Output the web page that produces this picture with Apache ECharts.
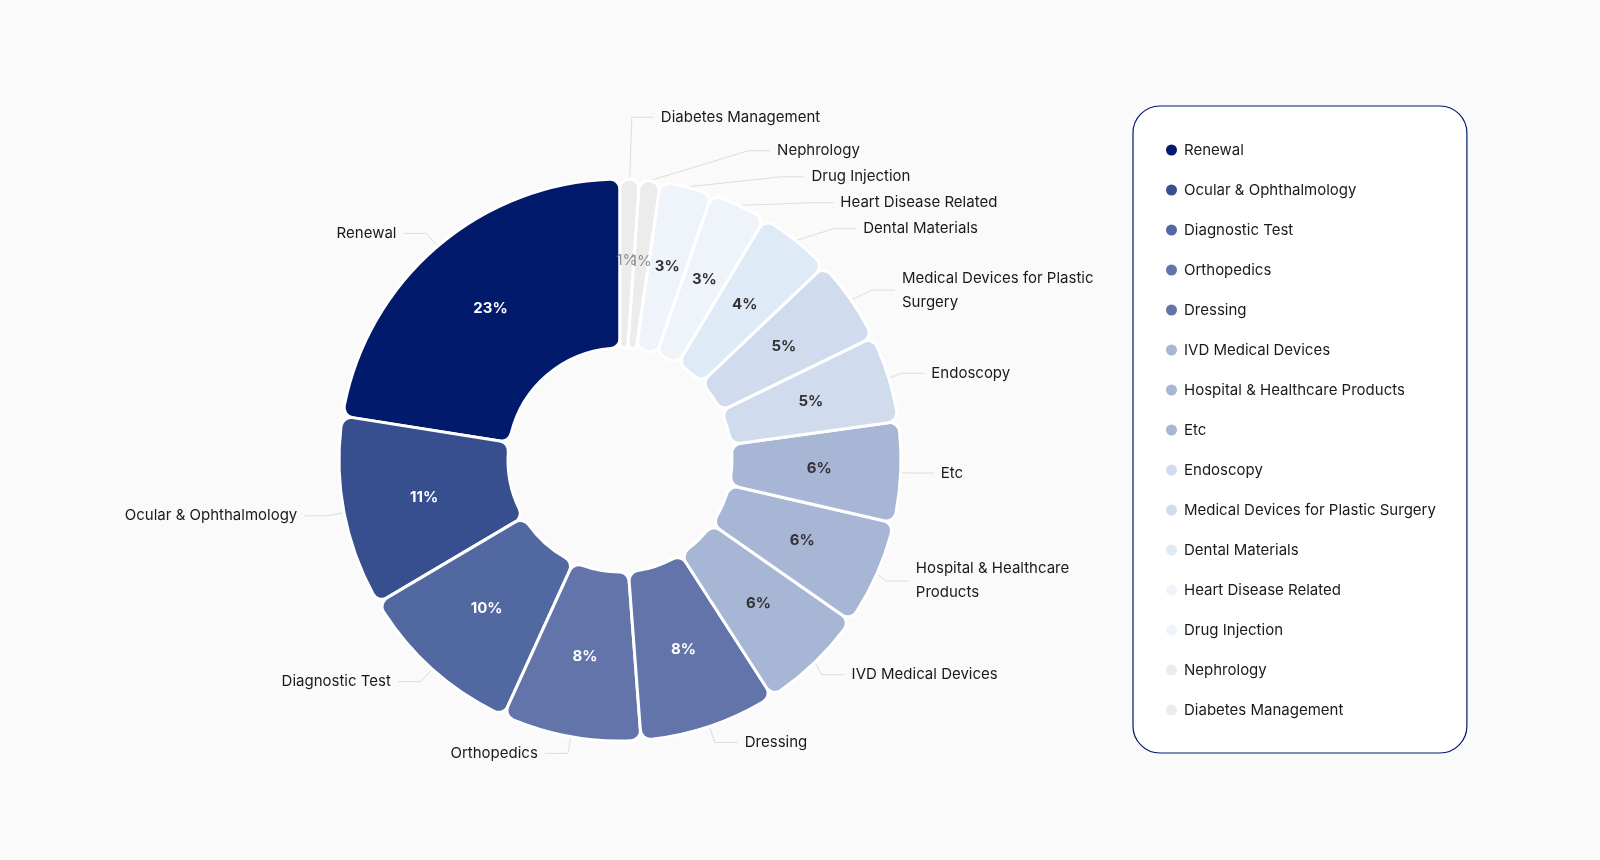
<!DOCTYPE html>
<html>
<head>
<meta charset="utf-8">
<style>
  html, body { margin: 0; padding: 0; background: #fafafa; }
  #chart { width: 1600px; height: 860px; }
</style>
<script src="https://cdn.jsdelivr.net/npm/echarts@6/dist/echarts.min.js"></script>
</head>
<body>
<div id="chart"></div>
<script>
// categories, in drawing order (counter-clockwise from 12 o'clock)
const categories = [
  'Renewal', 'Ocular & Ophthalmology', 'Diagnostic Test', 'Orthopedics', 'Dressing',
  'IVD Medical Devices', 'Hospital & Healthcare Products', 'Etc', 'Endoscopy',
  'Medical Devices for Plastic Surgery', 'Dental Materials', 'Heart Disease Related',
  'Drug Injection', 'Nephrology', 'Diabetes Management'
];
// share of each category (%)
const shares = [22.5, 11.0, 9.7, 8.0, 7.9, 6.2, 6.1, 5.8, 5.0, 4.9, 4.3, 3.3, 3.0, 1.2, 1.1];

const palette = [
  '#011a6b', '#374f8f', '#5268a1', '#6274a9', '#6274a9',
  '#a8b6d6', '#a8b6d6', '#a8b6d6', '#d0dcee', '#d0dcee',
  '#dfeaf7', '#eff3fa', '#eff3fa', '#ececec', '#ececec'
];

// the two thin slices at the top get longer leader lines so their labels stack upward
const longLeader = { 'Diabetes Management': 62, 'Nephrology': 30 };

let chart = echarts.init(document.getElementById('chart'), null, { renderer: 'canvas' });

let pieData = categories.map((name, i) => {
  let item = { name: name, value: shares[i] };
  if (longLeader[name]) {
    item.labelLine = { length: longLeader[name], length2: 22 };
  }
  return item;
});

let pctData = categories.map((name, i) => ({
  name: name,
  value: shares[i],
  label: {
    color: i < 5 ? '#ffffff' : (i >= 13 ? '#8d8d8d' : '#333333'),
    fontWeight: i >= 13 ? 'normal' : 'bold'
  }
}));

let option = {
  backgroundColor: '#fafafa',
  color: palette,
  textStyle: { fontFamily: 'Inter, "Noto Sans", sans-serif' },
  legend: {
    orient: 'vertical',
    left: 1133,
    top: 106,
    data: categories,
    icon: 'circle',
    itemWidth: 13,
    itemHeight: 13,
    itemGap: 20,
    padding: [34, 31, 33, 31],
    borderColor: '#011a6b',
    borderWidth: 1.2,
    borderRadius: 27,
    backgroundColor: '#ffffff',
    selectedMode: false,
    textStyle: { fontSize: 15, color: '#1a1a1a', lineHeight: 20, padding: [0, 0, 0, 1] }
  },
  series: [
    {
      name: 'Share',
      type: 'pie',
      center: [620, 460],
      radius: [112, 281],
      startAngle: 90,
      clockwise: false,
      itemStyle: {
        borderRadius: 10,
        borderColor: '#ffffff',
        borderWidth: 3
      },
      label: {
        show: true,
        position: 'outside',
        color: '#1a1a1a',
        fontSize: 15,
        lineHeight: 24,
        width: 200,
        overflow: 'break',
        distanceToLabelLine: 7
      },
      labelLine: {
        show: true,
        length: 17,
        length2: 23,
        lineStyle: { color: '#dddddd', width: 1 }
      },
      emphasis: { scale: false },
      data: pieData
    },
    {
      name: 'Percent',
      type: 'pie',
      center: [620, 460],
      radius: [112, 281],
      startAngle: 90,
      clockwise: false,
      silent: true,
      avoidLabelOverlap: false,
      itemStyle: { color: 'transparent', borderWidth: 0 },
      label: {
        show: true,
        position: 'inside',
        fontSize: 15,
        overflow: 'none',
        formatter: (p) => Math.round(p.percent) + '%'
      },
      labelLayout: { hideOverlap: false },
      labelLine: { show: false },
      data: pctData
    }
  ]
};

chart.setOption(option);

window.addEventListener('resize', chart.resize);
</script>
</body>
</html>
